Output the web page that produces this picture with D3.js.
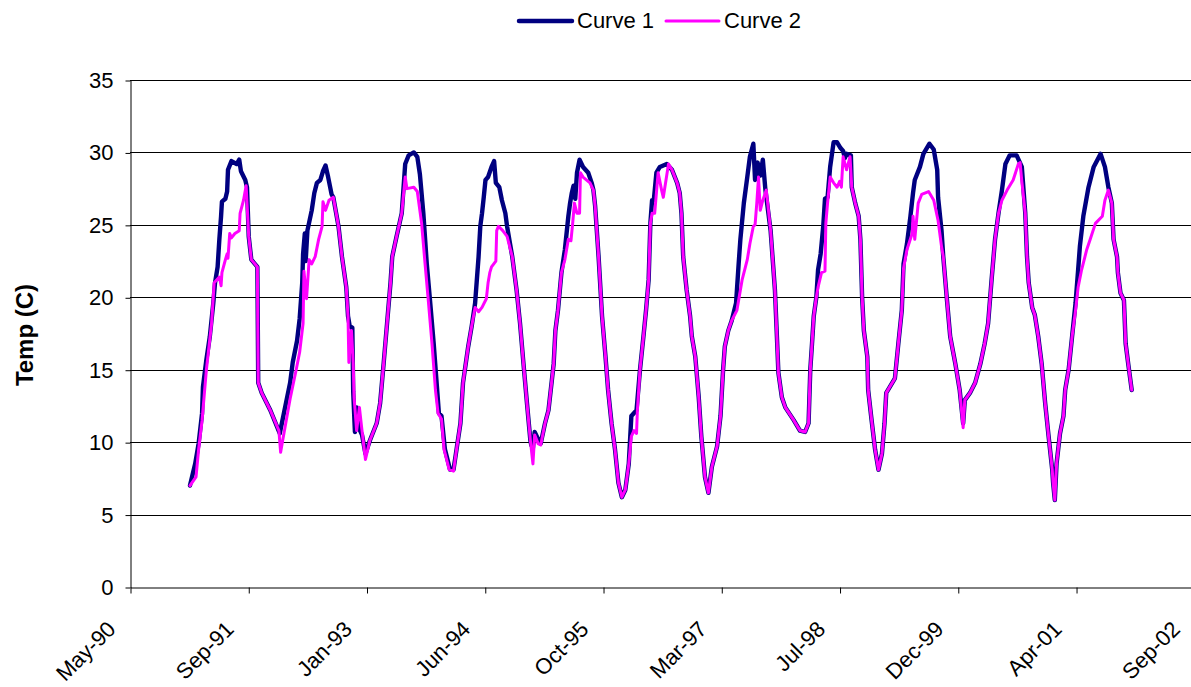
<!DOCTYPE html>
<html>
<head>
<meta charset="utf-8">
<script src="https://cdn.jsdelivr.net/npm/d3@7"></script>
<style>
  body { margin: 0; background: #fff; }
  svg { display: block; font-family: "Liberation Sans", Arial, sans-serif; }
</style>
</head>
<body>
<svg id="chart" width="1191" height="687"></svg>
<script>
// series: [decimal year, temp C]
const curve1 = [[1991.04,7.0],[1991.10,8.5],[1991.14,9.9],[1991.18,12.0],[1991.19,13.8],[1991.23,15.7],[1991.27,17.3],[1991.31,19.6],[1991.33,21.0],[1991.36,22.1],[1991.38,24.0],[1991.40,25.6],[1991.41,26.6],[1991.45,26.8],[1991.47,27.3],[1991.48,28.8],[1991.52,29.4],[1991.58,29.2],[1991.61,29.5],[1991.63,28.7],[1991.68,28.1],[1991.70,27.6],[1991.72,24.2],[1991.75,22.6],[1991.82,22.1],[1991.83,14.1],[1991.87,13.4],[1991.97,12.2],[1992.08,10.6],[1992.20,14.1],[1992.23,15.5],[1992.28,17.0],[1992.31,18.5],[1992.34,21.0],[1992.35,23.0],[1992.37,24.4],[1992.38,22.5],[1992.40,24.6],[1992.45,26.0],[1992.48,27.2],[1992.51,27.9],[1992.55,28.1],[1992.58,28.7],[1992.61,29.1],[1992.64,28.3],[1992.68,27.1],[1992.70,26.9],[1992.76,24.9],[1992.80,22.8],[1992.85,20.7],[1992.87,18.7],[1992.89,18.0],[1992.92,17.9],[1992.93,13.5],[1992.95,10.7],[1992.97,12.4],[1993.00,10.9],[1993.03,10.5],[1993.07,9.2],[1993.12,10.1],[1993.20,11.3],[1993.24,12.7],[1993.28,15.4],[1993.32,18.2],[1993.36,21.0],[1993.38,22.8],[1993.43,24.2],[1993.49,25.8],[1993.51,27.5],[1993.53,29.2],[1993.57,29.8],[1993.63,30.0],[1993.67,29.7],[1993.70,28.5],[1993.74,25.8],[1993.78,22.3],[1993.82,19.6],[1993.86,16.8],[1993.90,13.6],[1993.92,12.0],[1993.95,11.8],[1993.99,9.5],[1994.05,8.1],[1994.09,8.1],[1994.13,9.7],[1994.17,11.3],[1994.20,14.1],[1994.26,16.6],[1994.30,18.0],[1994.34,19.6],[1994.38,22.8],[1994.40,24.9],[1994.42,25.8],[1994.44,26.9],[1994.46,28.1],[1994.49,28.3],[1994.53,29.0],[1994.56,29.4],[1994.58,27.9],[1994.62,27.6],[1994.65,26.7],[1994.69,25.8],[1994.71,24.9],[1994.77,22.8],[1994.82,20.5],[1994.86,18.2],[1994.90,15.4],[1994.94,12.7],[1994.98,10.1],[1994.99,9.8],[1995.01,9.6],[1995.03,10.7],[1995.07,10.2],[1995.10,9.9],[1995.15,11.3],[1995.19,12.2],[1995.25,15.4],[1995.27,17.7],[1995.30,19.1],[1995.34,21.7],[1995.38,23.3],[1995.42,25.6],[1995.44,26.5],[1995.46,27.2],[1995.48,27.7],[1995.50,26.8],[1995.52,28.6],[1995.55,29.5],[1995.59,29.0],[1995.65,28.6],[1995.69,27.9],[1995.71,27.4],[1995.73,26.3],[1995.77,22.8],[1995.81,18.7],[1995.85,15.9],[1995.88,13.6],[1995.92,11.3],[1995.96,9.5],[1996.00,7.2],[1996.04,6.2],[1996.08,6.7],[1996.12,8.5],[1996.15,11.8],[1996.21,12.2],[1996.25,15.0],[1996.29,17.3],[1996.32,19.1],[1996.35,21.2],[1996.37,25.1],[1996.39,26.7],[1996.41,26.7],[1996.44,28.6],[1996.48,29.0],[1996.56,29.2],[1996.62,28.8],[1996.68,27.9],[1996.71,27.2],[1996.73,25.8],[1996.75,22.8],[1996.79,20.5],[1996.83,18.7],[1996.85,17.3],[1996.89,15.9],[1996.93,13.1],[1996.96,10.4],[1997.00,7.6],[1997.04,6.5],[1997.08,8.3],[1997.14,9.7],[1997.18,11.8],[1997.21,15.0],[1997.23,16.6],[1997.27,17.7],[1997.31,18.4],[1997.36,19.6],[1997.39,22.3],[1997.41,24.0],[1997.45,26.5],[1997.49,28.3],[1997.52,29.7],[1997.56,30.6],[1997.58,28.1],[1997.61,29.3],[1997.64,28.4],[1997.67,29.5],[1997.70,27.4],[1997.76,24.6],[1997.81,20.5],[1997.83,17.7],[1997.85,14.8],[1997.89,13.1],[1997.93,12.4],[1998.03,11.5],[1998.10,10.8],[1998.16,10.7],[1998.20,11.3],[1998.22,15.0],[1998.24,16.8],[1998.26,18.7],[1998.29,20.0],[1998.31,21.9],[1998.34,23.0],[1998.37,24.9],[1998.39,26.8],[1998.42,26.9],[1998.45,29.0],[1998.49,30.7],[1998.53,30.7],[1998.57,30.3],[1998.60,30.1],[1998.62,29.6],[1998.64,29.9],[1998.69,29.8],[1998.70,27.6],[1998.74,26.5],[1998.78,25.6],[1998.80,24.0],[1998.82,20.0],[1998.84,17.7],[1998.88,15.9],[1998.89,13.6],[1998.93,11.5],[1998.97,9.5],[1999.01,8.1],[1999.05,9.2],[1999.08,11.3],[1999.10,13.4],[1999.14,13.8],[1999.20,14.4],[1999.24,16.8],[1999.28,19.1],[1999.30,22.3],[1999.34,23.7],[1999.38,25.6],[1999.41,27.2],[1999.43,28.1],[1999.49,29.0],[1999.53,29.9],[1999.60,30.6],[1999.65,30.2],[1999.69,28.8],[1999.70,26.9],[1999.74,24.6],[1999.76,22.8],[1999.80,20.0],[1999.84,17.3],[1999.90,15.4],[1999.95,13.6],[1999.99,11.3],[2000.01,12.9],[2000.07,13.4],[2000.13,14.1],[2000.19,15.4],[2000.24,16.8],[2000.28,18.2],[2000.32,21.2],[2000.36,24.0],[2000.40,25.8],[2000.44,27.4],[2000.48,29.2],[2000.53,29.8],[2000.61,29.8],[2000.67,29.0],[2000.71,25.8],[2000.73,22.8],[2000.75,21.0],[2000.79,19.3],[2000.82,18.8],[2000.86,17.3],[2000.90,15.4],[2000.94,12.7],[2000.98,10.4],[2001.02,8.1],[2001.03,7.2],[2001.05,6.0],[2001.07,8.5],[2001.11,10.6],[2001.15,11.8],[2001.17,13.6],[2001.21,15.0],[2001.25,17.3],[2001.29,19.6],[2001.32,21.9],[2001.34,23.5],[2001.38,25.6],[2001.44,27.6],[2001.50,29.0],[2001.58,29.9],[2001.63,29.0],[2001.67,27.6],[2001.71,26.5],[2001.73,24.0],[2001.77,22.8],[2001.78,21.7],[2001.81,20.3],[2001.85,19.8],[2001.87,16.8],[2001.90,15.4],[2001.94,13.6]];

const curve2 = [[1991.04,7.0],[1991.11,7.6],[1991.14,9.5],[1991.18,11.5],[1991.23,15.0],[1991.29,18.2],[1991.32,21.0],[1991.38,21.4],[1991.40,20.8],[1991.41,21.7],[1991.45,22.6],[1991.47,23.0],[1991.48,22.7],[1991.50,24.4],[1991.52,24.1],[1991.56,24.4],[1991.61,24.6],[1991.62,25.8],[1991.66,26.7],[1991.69,27.7],[1991.72,24.2],[1991.75,22.6],[1991.82,22.1],[1991.83,14.1],[1991.87,13.4],[1991.97,12.2],[1992.07,10.8],[1992.09,9.3],[1992.11,10.0],[1992.20,13.0],[1992.27,15.0],[1992.31,16.2],[1992.35,18.2],[1992.36,21.8],[1992.39,19.9],[1992.42,22.6],[1992.45,22.3],[1992.49,22.8],[1992.53,24.0],[1992.57,24.9],[1992.58,26.6],[1992.61,26.0],[1992.65,26.7],[1992.70,26.9],[1992.76,24.9],[1992.80,22.8],[1992.85,20.7],[1992.87,18.7],[1992.88,15.5],[1992.91,17.7],[1992.93,15.5],[1992.94,13.1],[1992.97,10.8],[1993.00,12.4],[1993.03,10.8],[1993.07,8.8],[1993.12,10.1],[1993.20,11.3],[1993.24,12.7],[1993.28,15.4],[1993.32,18.2],[1993.36,21.0],[1993.38,22.8],[1993.43,24.2],[1993.49,25.8],[1993.53,28.3],[1993.55,27.5],[1993.63,27.6],[1993.67,27.3],[1993.72,25.1],[1993.76,22.3],[1993.80,19.6],[1993.84,16.8],[1993.88,13.6],[1993.91,12.0],[1993.95,11.6],[1993.98,9.5],[1994.04,8.1],[1994.09,8.0],[1994.13,9.7],[1994.17,11.3],[1994.20,14.1],[1994.26,16.6],[1994.30,18.0],[1994.34,19.3],[1994.38,19.0],[1994.42,19.3],[1994.47,19.9],[1994.49,21.0],[1994.51,21.7],[1994.53,22.1],[1994.58,22.5],[1994.59,24.6],[1994.61,24.9],[1994.66,24.6],[1994.71,24.2],[1994.77,22.8],[1994.82,20.5],[1994.86,18.2],[1994.90,15.4],[1994.94,12.7],[1994.98,10.1],[1995.01,8.5],[1995.03,10.5],[1995.07,9.9],[1995.10,9.8],[1995.15,11.3],[1995.19,12.2],[1995.25,15.4],[1995.27,17.7],[1995.30,19.1],[1995.34,21.7],[1995.38,22.6],[1995.42,24.0],[1995.45,23.9],[1995.47,25.1],[1995.49,26.5],[1995.52,25.8],[1995.55,25.8],[1995.56,28.6],[1995.59,28.3],[1995.67,27.9],[1995.71,27.4],[1995.73,26.3],[1995.77,22.8],[1995.81,18.7],[1995.85,15.9],[1995.88,13.6],[1995.92,11.3],[1995.96,9.5],[1996.00,7.2],[1996.04,6.2],[1996.08,6.7],[1996.12,8.5],[1996.15,10.4],[1996.18,10.8],[1996.21,10.6],[1996.22,12.2],[1996.25,15.0],[1996.29,17.3],[1996.32,19.1],[1996.35,21.2],[1996.37,25.1],[1996.39,25.8],[1996.42,25.8],[1996.46,28.6],[1996.50,27.4],[1996.52,26.9],[1996.58,29.2],[1996.62,28.8],[1996.68,27.9],[1996.71,27.2],[1996.73,25.8],[1996.75,22.8],[1996.79,20.5],[1996.83,18.7],[1996.85,17.3],[1996.89,15.9],[1996.93,13.1],[1996.96,10.4],[1997.00,7.6],[1997.04,6.5],[1997.08,8.3],[1997.14,9.7],[1997.18,11.8],[1997.21,15.0],[1997.23,16.6],[1997.27,17.7],[1997.31,18.4],[1997.37,19.1],[1997.43,21.2],[1997.49,22.6],[1997.52,23.7],[1997.56,24.9],[1997.58,25.0],[1997.60,26.5],[1997.62,28.3],[1997.64,26.0],[1997.67,26.7],[1997.71,27.4],[1997.76,24.6],[1997.81,20.5],[1997.83,17.7],[1997.85,14.8],[1997.89,13.1],[1997.93,12.4],[1998.03,11.5],[1998.10,10.8],[1998.16,10.7],[1998.20,11.3],[1998.22,15.0],[1998.24,16.8],[1998.26,18.7],[1998.29,20.0],[1998.31,20.7],[1998.35,21.7],[1998.39,21.8],[1998.40,25.1],[1998.42,26.5],[1998.45,28.3],[1998.49,27.9],[1998.53,27.6],[1998.56,28.0],[1998.58,27.6],[1998.60,29.7],[1998.64,28.8],[1998.68,29.7],[1998.70,27.6],[1998.74,26.5],[1998.78,25.6],[1998.80,24.0],[1998.82,20.0],[1998.84,17.7],[1998.88,15.9],[1998.89,13.6],[1998.93,11.5],[1998.97,9.5],[1999.01,8.1],[1999.05,9.2],[1999.08,11.3],[1999.10,13.4],[1999.14,13.8],[1999.20,14.4],[1999.24,16.8],[1999.28,19.1],[1999.30,22.0],[1999.34,23.3],[1999.40,24.4],[1999.41,25.6],[1999.43,24.0],[1999.47,26.5],[1999.51,27.1],[1999.59,27.3],[1999.65,26.7],[1999.70,25.3],[1999.74,23.5],[1999.76,22.8],[1999.80,20.0],[1999.84,17.3],[1999.90,15.4],[1999.95,13.6],[1999.99,11.0],[2000.01,12.9],[2000.07,13.4],[2000.13,14.1],[2000.19,15.4],[2000.24,16.8],[2000.28,18.2],[2000.32,21.2],[2000.36,24.0],[2000.40,25.8],[2000.44,26.7],[2000.50,27.4],[2000.57,28.1],[2000.63,29.2],[2000.65,29.3],[2000.67,28.0],[2000.71,25.8],[2000.73,22.8],[2000.75,21.0],[2000.79,19.3],[2000.82,18.8],[2000.86,17.3],[2000.90,15.4],[2000.94,12.7],[2000.98,10.4],[2001.02,8.1],[2001.03,7.2],[2001.05,6.0],[2001.07,8.5],[2001.11,10.6],[2001.15,11.8],[2001.17,13.6],[2001.21,15.0],[2001.25,17.3],[2001.29,19.1],[2001.32,20.7],[2001.36,21.9],[2001.42,23.3],[2001.46,24.0],[2001.52,25.1],[2001.60,25.6],[2001.63,26.7],[2001.67,27.4],[2001.71,26.5],[2001.73,24.0],[2001.77,22.8],[2001.78,21.7],[2001.81,20.3],[2001.85,19.8],[2001.87,16.8],[2001.90,15.4],[2001.94,13.6]];

const seriesNames = ['Curve 1', 'Curve 2'];
const seriesColors = ['#000080', '#ff00ff'];
const yTicks = [0, 5, 10, 15, 20, 25, 30, 35];
// excel date axis: starts 7 May 1990, a major unit every 500 days
const xStart = Date.UTC(1990, 4, 7);
const xStepDays = 500;
const xTickCount = 10;

const DAY = 864e5;
const toDate = y => {
  const yr = Math.floor(y);
  return new Date(Date.UTC(yr, 0, 1) + (y - yr) * 365.25 * DAY);
};

const svg = d3.select('#chart');
const plot = {left: 130, right: 1194.3, top: 80, bottom: 587};

const xTickValues = d3.range(xTickCount).map(i => new Date(xStart + i * xStepDays * DAY));
const xScale = d3.scaleUtc()
  .domain([xTickValues[0], xTickValues[xTickCount - 1]])
  .range([plot.left, plot.right]);
const yScale = d3.scaleLinear().domain([0, 35]).range([plot.bottom, plot.top]);

// gridlines
svg.append('g')
  .selectAll('line')
  .data(yTicks.filter(d => d > 0))
  .join('line')
    .attr('x1', plot.left)
    .attr('x2', plot.right)
    .attr('y1', d => Math.round(yScale(d)) + 0.5)
    .attr('y2', d => Math.round(yScale(d)) + 0.5)
    .attr('stroke', '#000')
    .attr('stroke-width', 1);

// y axis
svg.append('g')
    .attr('transform', `translate(${plot.left + 0.5},0.5)`)
    .call(d3.axisLeft(yScale).tickValues(yTicks).tickSize(5).tickPadding(12).tickSizeOuter(0))
    .call(g => g.select('.domain').attr('stroke', '#000'))
    .call(g => g.selectAll('.tick text')
      .attr('font-size', 22)
      .attr('font-family', '"Liberation Sans", Arial, sans-serif')
      .attr('fill', '#000'));

// x axis, labels slanted 45 degrees
svg.append('g')
    .attr('transform', `translate(0.5,${Math.round(plot.bottom) + 0.5})`)
    .call(d3.axisBottom(xScale).tickValues(xTickValues).tickSize(6).tickSizeOuter(0)
      .tickFormat(d3.utcFormat('%b-%y')))
    .call(g => g.select('.domain').attr('stroke', '#000'))
    .call(g => g.selectAll('.tick text')
      .attr('font-size', 22)
      .attr('font-family', '"Liberation Sans", Arial, sans-serif')
      .attr('fill', '#000')
      .attr('text-anchor', 'end')
      .attr('dy', null)
      .attr('y', null)
      .attr('transform', 'translate(-14,43) rotate(-45)'));

// y title
svg.append('text')
    .attr('transform', 'translate(33,335) rotate(-90)')
    .attr('text-anchor', 'middle')
    .attr('font-size', 24)
    .attr('font-weight', 'bold')
    .text('Temp (C)');

const line = d3.line()
  .x(d => xScale(toDate(d[0])))
  .y(d => yScale(d[1]));

svg.append('g')
  .selectAll('path')
  .data([curve1, curve2])
  .join('path')
    .attr('fill', 'none')
    .attr('stroke', (_, i) => seriesColors[i])
    .attr('stroke-width', (_, i) => i === 0 ? 4.4 : 3)
    .attr('stroke-linejoin', 'round')
    .attr('stroke-linecap', 'round')
    .attr('d', line);

// legend
const legend = svg.append('g')
  .selectAll('g')
  .data(seriesNames)
  .join('g')
    .attr('transform', (_, i) => `translate(${519 + i * 147},21)`);
legend.append('line')
    .attr('x1', 0)
    .attr('x2', 53)
    .attr('stroke', (_, i) => seriesColors[i])
    .attr('stroke-width', (_, i) => i === 0 ? 4.5 : 3)
    .attr('stroke-linecap', 'round');
legend.append('text')
    .attr('x', 58)
    .attr('y', 7)
    .attr('font-size', 22)
    .text(d => d);
</script>
</body>
</html>
